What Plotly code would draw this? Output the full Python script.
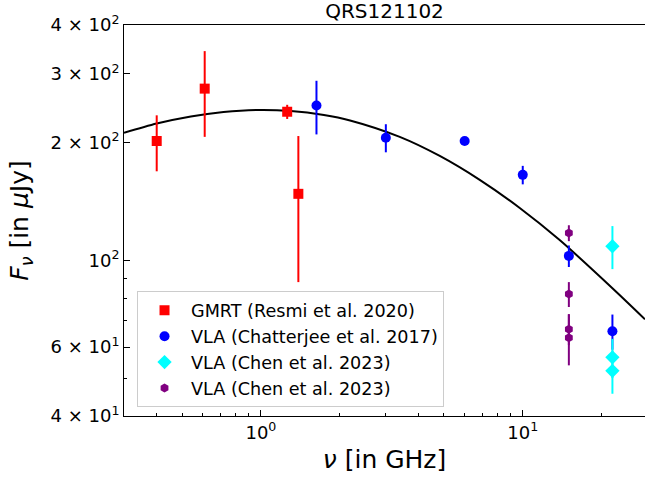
import numpy as np
import plotly.graph_objects as go

# ---- data ----
gmrt_nu = [0.40, 0.61, 1.26, 1.39]
gmrt_f = [202, 275, 240, 148]
gmrt_err = [33, 68, 10, 60]

chat_nu = [1.63, 3.0, 6.0, 10.0, 15.0, 22.0]
chat_f = [249, 206, 202, 165.5, 102.7, 65.9]
chat_err = [39, 17, 4, 9, 6.5, 6.8]

chen_k_nu = [22.0, 22.0, 22.0]
chen_k_f = [108.7, 56.5, 52.2]
chen_k_err = [13.7, 6.5, 6.6]

chen_u_nu = [15.0, 15.0, 15.0, 15.0]
chen_u_f = [117.5, 82, 66.7, 63.4]
chen_u_err = [5.5, 6, 6, 9.5]

# model curve at these frequencies
model_nu = [0.3, 0.4, 0.54, 0.72, 0.97, 1.30, 1.74, 2.19, 3.39, 4.82, 6.85, 9.74, 13.8, 22.0, 29.3]
model_f = [212, 224, 233.5, 239.6, 242.5, 241.1, 235.5, 228, 207, 185, 160.7, 136.2, 112.9, 84.9, 70.7]

y_major = [40, 60, 100, 200, 300, 400]
y_major_text = ["4 × 10<sup>1</sup>", "6 × 10<sup>1</sup>", "10<sup>2</sup>",
                "2 × 10<sup>2</sup>", "3 × 10<sup>2</sup>", "4 × 10<sup>2</sup>"]
y_minor = [50, 70, 80, 90]
x_major = [1, 10]
x_major_text = ["10<sup>0</sup>", "10<sup>1</sup>"]
x_minor = [0.3, 0.4, 0.5, 0.6, 0.7, 0.8, 0.9, 2, 3, 4, 5, 6, 7, 8, 9, 20, 30]

FONT = "DejaVu Sans"

fig = go.Figure()

fig.add_trace(go.Scatter(x=model_nu, y=model_f, mode="lines",
                         line=dict(color="black", width=2, shape="spline", smoothing=0.8),
                         showlegend=False, hoverinfo="skip"))


def pts(x, y, e, color, symbol, size, name):
    return go.Scatter(
        x=x, y=y, mode="markers", name=name,
        marker=dict(color=color, symbol=symbol, size=size, line=dict(width=0)),
        error_y=dict(type="data", array=e, visible=True, color=color, thickness=2, width=0),
    )


fig.add_trace(pts(gmrt_nu, gmrt_f, gmrt_err, "#ff0000", "square", 10, "GMRT (Resmi et al. 2020)"))
fig.add_trace(pts(chat_nu, chat_f, chat_err, "#0000ff", "circle", 10, "VLA (Chatterjee et al. 2017)"))
fig.add_trace(pts(chen_k_nu, chen_k_f, chen_k_err, "#00ffff", "diamond", 11, "VLA (Chen et al. 2023)"))
fig.add_trace(pts(chen_u_nu, chen_u_f, chen_u_err, "#800080", "hexagon", 9, "VLA (Chen et al. 2023)"))

fig.update_layout(
    width=645, height=477,
    margin=dict(l=124, r=0, t=25, b=61),
    paper_bgcolor="white", plot_bgcolor="white",
    font=dict(family=FONT, color="black", size=17),
    title=dict(text="QRS121102", x=0.5, xref="paper", xanchor="center",
               y=1, yref="container", yanchor="top", pad=dict(t=4),
               font=dict(size=20, family=FONT)),
    legend=dict(x=0.025, y=0.022, xanchor="left", yanchor="bottom",
                bgcolor="white", bordercolor="#cccccc", borderwidth=1,
                font=dict(size=17.6, family=FONT), itemwidth=43, tracegroupgap=0),
    showlegend=True,
)

fig.update_xaxes(
    type="log", range=[np.log10(0.3), np.log10(29.3)],
    showgrid=False, zeroline=False,
    showline=True, linecolor="black", linewidth=1, mirror=True,
    ticks="inside", ticklen=6, tickwidth=1, tickcolor="black",
    tickvals=x_major, ticktext=x_major_text, tickfont=dict(size=18),
    minor=dict(tickvals=x_minor, ticks="inside", ticklen=3, tickwidth=1, tickcolor="black", showgrid=False),
    title=dict(text="<i>ν</i> [in GHz]", font=dict(size=25), standoff=8),
)
fig.update_yaxes(
    type="log", range=[np.log10(40), np.log10(400)],
    showgrid=False, zeroline=False,
    showline=True, linecolor="black", linewidth=1, mirror=False,
    ticks="inside", ticklen=6, tickwidth=1, tickcolor="black",
    tickvals=y_major, ticktext=y_major_text, tickfont=dict(size=18),
    minor=dict(tickvals=y_minor, ticks="inside", ticklen=3, tickwidth=1, tickcolor="black", showgrid=False),
    title=dict(text="<i>F</i><sub><i>ν</i></sub> [in <i>μ</i>Jy]", font=dict(size=25), standoff=14),
)

fig.write_html("out.html")
